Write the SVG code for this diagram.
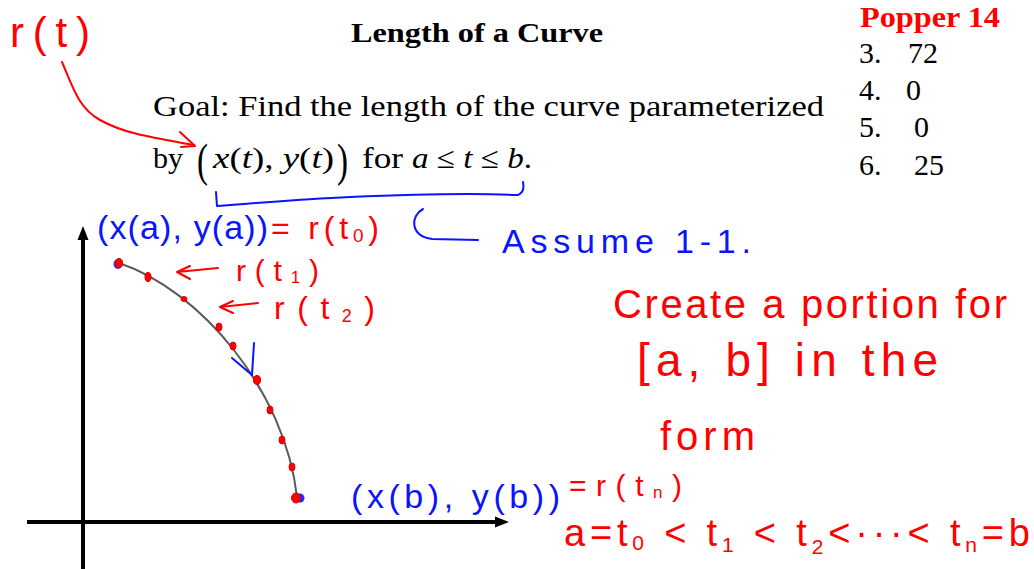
<svg xmlns="http://www.w3.org/2000/svg" width="1034" height="569" viewBox="0 0 1034 569">
<style>
.slide{font-family:"Liberation Serif","Times New Roman",serif;fill:#000}
.it{font-style:italic}
.hw{font-family:"Liberation Sans",Arial,sans-serif;font-weight:normal}
.red{fill:#ff0000}
.blue{fill:#0a14ff}
.rs{fill:none;stroke:#ff0000;stroke-width:2;stroke-linecap:round;stroke-linejoin:round}
.bs{fill:none;stroke:#0a14ff;stroke-width:2;stroke-linecap:round;stroke-linejoin:round}
.axis{stroke:#000;stroke-width:4;fill:none}
.dot{fill:#ff0000;stroke:#e00000;stroke-width:1}
</style>
<rect width="1034" height="569" fill="#ffffff"/>

<g id="slide-text">
  <text class="slide" x="351" y="42" font-size="28" font-weight="bold" textLength="252" lengthAdjust="spacingAndGlyphs">Length of a Curve</text>
  <text class="slide" x="153" y="116" font-size="30" textLength="671" lengthAdjust="spacingAndGlyphs">Goal: Find the length of the curve parameterized</text>
  <text class="slide" x="153" y="168" font-size="30">by</text>
  <text class="slide" x="197" y="176" font-size="46" textLength="11" lengthAdjust="spacingAndGlyphs">(</text>
  <text class="slide" x="213" y="168" font-size="30" textLength="121" lengthAdjust="spacingAndGlyphs"><tspan class="it">x</tspan>(<tspan class="it">t</tspan>), <tspan class="it">y</tspan>(<tspan class="it">t</tspan>)</text>
  <text class="slide" x="337" y="176" font-size="46" textLength="11" lengthAdjust="spacingAndGlyphs">)</text>
  <text class="slide" x="362" y="168" font-size="30" textLength="41" lengthAdjust="spacingAndGlyphs">for</text>
  <text class="slide" x="412" y="168" font-size="30" textLength="120" lengthAdjust="spacingAndGlyphs"><tspan class="it">a</tspan> ≤ <tspan class="it">t</tspan> ≤ <tspan class="it">b</tspan>.</text>
</g>

<g id="popper">
  <text class="slide" x="860" y="27" font-size="30" font-weight="bold" style="fill:#ff0000" textLength="140" lengthAdjust="spacingAndGlyphs">Popper 14</text>
  <text class="slide" x="859" y="63" font-size="30">3.</text><text class="slide" x="908" y="63" font-size="30">72</text>
  <text class="slide" x="859" y="100" font-size="30">4.</text><text class="slide" x="906" y="100" font-size="30">0</text>
  <text class="slide" x="859" y="137" font-size="30">5.</text><text class="slide" x="914" y="137" font-size="30">0</text>
  <text class="slide" x="859" y="175" font-size="30">6.</text><text class="slide" x="914" y="175" font-size="30">25</text>
</g>

<g id="axes">
  <line class="axis" x1="83" y1="236" x2="83" y2="569"/>
  <polygon points="83,226 77.5,240 88.5,240" fill="#000"/>
  <line class="axis" x1="27" y1="522" x2="498" y2="522"/>
  <polygon points="509,522 495,516.5 495,527.5" fill="#000"/>
</g>

<g id="curve">
  <path d="M119,263 C200,290 285,390 297,497" fill="none" stroke="#5a5a5a" stroke-width="2"/>
  <ellipse cx="118" cy="264" rx="4.5" ry="5" fill="#1a2cff"/>
  <ellipse cx="300" cy="498" rx="4.5" ry="4.5" fill="#1a2cff"/>
  <ellipse class="dot" cx="119" cy="263" rx="3.5" ry="4.5"/>
  <ellipse class="dot" cx="148" cy="277" rx="3" ry="4.5"/>
  <ellipse class="dot" cx="184" cy="299" rx="3" ry="2.5"/>
  <ellipse class="dot" cx="219" cy="327" rx="3" ry="4"/>
  <ellipse class="dot" cx="233" cy="346" rx="3" ry="4"/>
  <ellipse class="dot" cx="257" cy="380" rx="3.5" ry="4.5"/>
  <ellipse class="dot" cx="270" cy="410" rx="3" ry="4"/>
  <ellipse class="dot" cx="282" cy="440" rx="3" ry="4"/>
  <ellipse class="dot" cx="292" cy="467" rx="3" ry="4"/>
  <ellipse class="dot" cx="296" cy="498" rx="4.5" ry="5"/>
</g>

<g id="connectors">
  <path class="rs" d="M62,62 C72,85 78,108 100,120 C125,134 155,138 194,145"/>
  <path class="rs" d="M180,132 L195,146 L181,147"/>
  <path class="rs" d="M218,268 L177,272 M177,272 L190,266 M177,272 L190,279"/>
  <path class="rs" d="M258,303 L220,307 M220,307 L233,301 M220,307 L233,313"/>
  <path class="bs" d="M216,192 L217,206 C260,203 300,199 350,197 C420,194 470,193 518,195 Q525,192 523,182"/>
  <path class="bs" d="M423,209 C410,216 410,236 432,239 L478,240"/>
  <path class="bs" d="M254,343 L252,375 M232,358 L252,375"/>
</g>

<g id="labels">
  <text class="hw red" x="10" y="47" font-size="42" textLength="80" lengthAdjust="spacing">r(t)</text>
  <text class="hw blue" x="97" y="239" font-size="34" textLength="171" lengthAdjust="spacing">(x(a), y(a))</text>
  <text class="hw red" x="271" y="239" font-size="32" textLength="108" lengthAdjust="spacing">= r(t<tspan font-size="19" dy="3">0</tspan><tspan dy="-3">)</tspan></text>
  <text class="hw blue" x="502" y="253" font-size="34" textLength="249" lengthAdjust="spacing">Assume 1-1.</text>
  <text class="hw red" x="236" y="281" font-size="30" textLength="83" lengthAdjust="spacing">r(t<tspan font-size="17" dy="2">1</tspan><tspan dy="-2">)</tspan></text>
  <text class="hw red" x="274" y="319" font-size="32" textLength="101" lengthAdjust="spacing">r(t<tspan font-size="18" dy="3">2</tspan><tspan dy="-3">)</tspan></text>
  <text class="hw red" x="613" y="318" font-size="40" textLength="394" lengthAdjust="spacing">Create a portion for</text>
  <text class="hw red" x="637" y="376" font-size="46" textLength="301" lengthAdjust="spacing">[a, b] in the</text>
  <text class="hw red" x="660" y="450" font-size="40" textLength="95" lengthAdjust="spacing">form</text>
  <text class="hw blue" x="351" y="508" font-size="34" textLength="209" lengthAdjust="spacing">(x(b), y(b))</text>
  <text class="hw red" x="569" y="496" font-size="30" textLength="113" lengthAdjust="spacing">=r(t<tspan font-size="17" dy="2">n</tspan><tspan dy="-2">)</tspan></text>
  <text class="hw red" x="564" y="546" font-size="38" textLength="466" lengthAdjust="spacing">a=t<tspan font-size="21" dy="4">0</tspan><tspan dy="-4"> &lt; t</tspan><tspan font-size="21" dy="6">1</tspan><tspan dy="-6"> &lt; t</tspan><tspan font-size="21" dy="8">2</tspan><tspan dy="-8">&lt;···&lt; t</tspan><tspan font-size="21" dy="6">n</tspan><tspan dy="-6">=b</tspan></text>
</g>
</svg>
